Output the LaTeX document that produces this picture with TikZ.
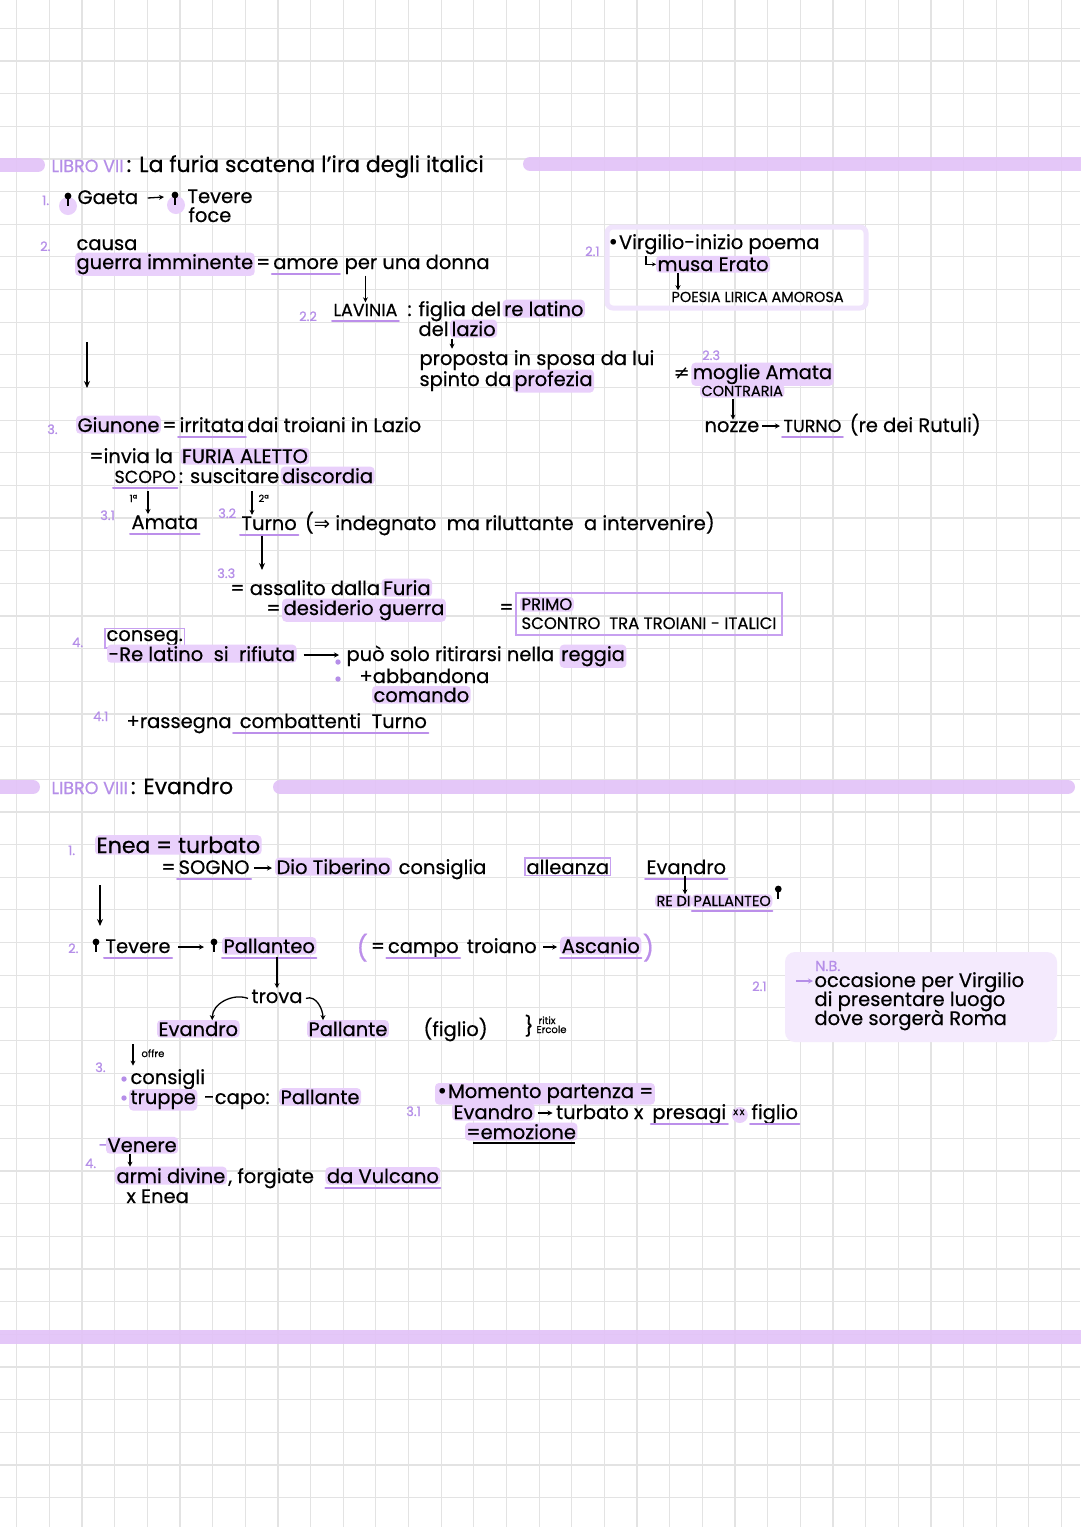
\documentclass[tikz,border=0pt]{standalone}
\usepackage{fontspec}
\setmainfont{Poppins}[FakeBold=0.5]
\newfontfamily\symf{DejaVu Sans}
\usetikzlibrary{arrows.meta,fit,calc}
\definecolor{hlc}{HTML}{E9D0FB}
\definecolor{ulc}{HTML}{BC8FEA}
\definecolor{bandc}{HTML}{E2C2F8}
\definecolor{numc}{HTML}{B58EE8}
\definecolor{gridc}{HTML}{E3E3E3}
\definecolor{boxc}{HTML}{C7A0F0}
\definecolor{nbc}{HTML}{F4EAFD}
\definecolor{framec}{HTML}{F0E4FC}
\newcommand\myTx{\fontsize{19.5}{22}\selectfont}
\newcommand\myHd{\fontsize{22}{24}\selectfont}
\newcommand\myHdP{\fontsize{17.5}{20}\selectfont}
\newcommand\myNum{\fontsize{13}{15}\selectfont}
\newcommand\myCap{\fontsize{17.5}{20}\selectfont}
\newcommand\myCapS{\fontsize{14.5}{16}\selectfont}
\newcommand\myCapM{\fontsize{16.5}{18}\selectfont}
\newcommand\myCapL{\fontsize{19.5}{22}\selectfont}
\newcommand\mySm{\fontsize{14.5}{16}\selectfont}
\newcommand\myTiny{\fontsize{10}{11}\selectfont}
\newcommand\myBig{\fontsize{25}{27}\selectfont}
\newcommand\ulu[1]{\draw[ul] ([yshift=-5pt]#1.base west) -- ([yshift=-5pt]#1.base east);}
\newcommand\pinAt[1]{\fill #1 circle (3.4pt); \draw[line width=1.6pt] #1 -- ++(0,10);}
\begin{document}
\begin{tikzpicture}[x=1pt,y=-1pt,
  tx/.style={font=\myTx, anchor=base west, inner sep=1.5pt, outer sep=0pt},
  hl/.style={tx, fill=hlc, rounded corners=4pt},
  num/.style={font=\myNum, text=numc, anchor=base west, inner sep=0pt},
  ar/.style={-{Stealth[length=7pt,width=6pt]}, line width=1.5pt},
  ars/.style={-{Stealth[length=5pt,width=5pt]}, line width=1.3pt},
  ul/.style={draw=ulc, line width=2pt, line cap=round},
  band/.style={line width=14pt, draw=bandc, line cap=round, opacity=0.9},
  gridl/.style={draw=gridc, line width=1.2pt}]
\useasboundingbox (0,0) rectangle (1080,1527);
\fill[white] (0,0) rectangle (1080,1527);
\foreach \k in {0,...,32} \draw[gridl] ({16.7+32.65*\k},0) -- ({16.7+32.65*\k},1527);
\foreach \k in {0,...,45} \draw[gridl] (0,{28.3+32.65*\k}) -- (1080,{28.3+32.65*\k});
% bands
\draw[band] (-20,165) -- (38,165);
\draw[band] (530,164) -- (1100,164);
\draw[band] (-20,787) -- (33,787);
\draw[band] (280,787) -- (1068,787);
\draw[band] (-20,1337) -- (1100,1337);
% header 1
\node[tx, text=numc, font=\myHdP] (h1) at (50,172) {LIBRO VII};
\node[tx, font=\myHd] (h1t) at (h1.base east) {: La furia scatena l'ira degli italici};
% 1
\node[num] (n1) at (42,205) {1.};
\fill[hlc] (68,206) circle (9pt);
\pinAt{(68,196)}
\node[tx] (gaeta) at (76,204) {Gaeta};
\fill[hlc] (176,205) circle (9pt);
\pinAt{(175,195)}
\node[tx] (tevere) at (186,203) {Tevere};
\node[tx] (foce) at (187,222) {foce};
\draw[ars] ($(gaeta.base east)+(8,-6)$) -- ($(tevere.base west)+(-22,-6)$);
% 2
\node[num] (n2) at (40,251) {2.};
\node[tx] (causa) at (75,250) {causa};
\node[hl] (guerra) at (75,269) {guerra imminente};
\node[tx] (eq2) at (guerra.base east) {= };
\node[tx] (amore) at (eq2.base east) {amore};
\ulu{amore}
\node[tx] (donna) at (amore.base east) {\,per una donna};
\node[num] (n22) at (299,321) {2.2};
\node[tx, font=\myCap] (lavinia) at (332,316) {LAVINIA};
\ulu{lavinia}
\draw[ars] (lavinia.north |- donna.south) -- (lavinia.north);
\node[tx] (figlia) at (406,316) {: figlia del};
\node[hl] (relatino) at (figlia.base east) {re latino};
\node[tx] (del) at (417,336) {del};
\node[hl] (lazio) at (del.base east) {lazio};
\node[tx] (proposta) at (418,365) {proposta in sposa da lui};
\node[tx] (spinto) at (418,386) {spinto da};
\node[hl] (profezia) at (spinto.base east) {profezia};
\draw[ars] ($(lazio.south west)+(2,1)$) -- ($(lazio.south west |- proposta.north)+(2,0)$);
% box 2.1
\draw[framec, line width=5pt, rounded corners=6pt] (607,227) rectangle (866,308);
\node[num] (n21) at (585,256) {2.1};
\node[tx] (virg) at (606,249) {{\symf •}Virgilio-inizio\ poema};
\node[hl] (musa) at (656,271) {musa Erato};
\draw[-{Stealth[length=4pt,width=4pt]}, line width=1.2pt] ($(musa.west)+(-10,-8)$) |- (musa.west);
\node[tx, font=\mySm] (poesia) at (670,302) {POESIA LIRICA AMOROSA};
\draw[ars] ($(musa.south west)+(22,0)$) -- ($(musa.south west |- poesia.north)+(22,0)$);
% big arrow 1
\coordinate (b1s) at (87,342);
\coordinate (b1e) at (87,388);
\draw[ar, line width=2pt] (b1s) -- (b1e);
% 2.3
\node[num] (n23) at (702,360) {2.3};
\node[tx, font=\symf\myTx] (neq) at (672,379) {≠};
\node[hl] (moglie) at (neq.base east) {moglie Amata};
\node[hl, font=\myCapS] (contraria) at (700,396) {CONTRARIA};
\node[tx] (nozze) at (703,432) {nozze};
\node[tx, font=\myCap] (turnoR) at (782,432) {TURNO};
\ulu{turnoR}
\node[tx] (rutuli) at (turnoR.base east) {\ (re dei Rutuli)};
\draw[ars] ($(contraria.south west)+(33,1)$) -- ($(contraria.south west |- nozze.north)+(33,0)$);
\draw[ars] ($(nozze.base east)+(1,-6)$) -- ($(turnoR.base west)+(-2,-6)$);
% 3
\node[num] (n3) at (47,434) {3.};
\node[hl] (giunone) at (76,432) {Giunone};
\node[tx] (g2) at (giunone.base east) {= };
\node[tx] (irritata) at (g2.base east) {irritata};
\ulu{irritata}
\node[tx] (g3) at (irritata.base east) {dai\ troiani\ in\ Lazio};
\node[tx] (invia) at (88,463) {=invia la};
\node[hl, font=\myCapL] (furia) at ($(invia.base east)+(6,0)$) {FURIA ALETTO};
\node[tx, font=\myCap] (scopo) at (113,483) {SCOPO};
\ulu{scopo}
\node[tx] (susc) at (scopo.base east) {: suscitare};
\node[hl] (discordia) at (susc.base east) {discordia};
\node[tx, font=\myTiny] (p1a) at (128,502) {1ª};
\node[tx, font=\myTiny] (p2a) at (257,502) {2ª};
\node[num] (n31) at (100,520) {3.1};
\node[tx] (amata) at (130,529) {Amata};
\ulu{amata}
\node[num] (n32) at (218,518) {3.2};
\node[tx] (turno) at (240,530) {Turno};
\ulu{turno}
\node[tx] (ind) at (turno.base east) {\ ({\symf ⇒} indegnato\ \ ma riluttante\ \ a intervenire)};
\coordinate (c1a) at (148,491);
\draw[ars] (c1a) -- (amata.north -| c1a);
\coordinate (c2a) at (252,491);
\draw[ars] (c2a) -- (turno.north -| c2a);
\coordinate (c33) at (262,570);
\draw[ar] ($(c33 |- turno.south)+(0,4)$) -- (c33);
\node[num] (n33) at (217,578) {3.3};
\node[tx] (ass) at (229,595) {= assalito dalla};
\node[hl] (furia2) at (ass.base east) {Furia};
\node[tx] (eqd) at (265,615) {= };
\node[hl] (desid) at (eqd.base east) {desiderio\ guerra};
\node[tx] (eqp) at (498,614) {=};
\node[hl, font=\myCapM] (primo) at (520,610) {PRIMO};
\node[tx, font=\myCapM] (scontro) at (520,629) {SCONTRO\ \ TRA TROIANI - ITALICI};
\node[draw=boxc, line width=2pt, fit=(primo)(scontro), inner sep=4pt] (box) {};
% 4
\node[num] (n4) at (72,647) {4.};
\node[tx, draw=boxc, line width=1.6pt] (conseg) at (105,641) {conseg.};
\node[hl] (rifiuta) at (107,661) {-Re latino \ si \ rifiuta\hspace{10pt}};
\node[tx] (puo) at (345,661) {può solo ritirarsi nella};
\node[hl] (reggia) at ($(puo.base east)+(4,0)$) {reggia};
\draw[ars] ($(rifiuta.base east)+(7,-6)$) -- ($(puo.base west)+(-6,-6)$);
\fill[numc] (338,662) circle (2.7pt);
\fill[numc] (338,679) circle (2.7pt);
\node[tx] (abb) at (358,683) {+abbandona};
\node[hl] (comando) at (372,702) {comando};
\node[num] (n41) at (93,721) {4.1};
\node[tx] (rass) at (125,728) {+rassegna};
\node[tx] (comb) at (rass.base east) {\ combattenti\ \ Turno};
\ulu{comb}
% header 2
\node[tx, text=numc, font=\myHdP] (h2) at (50,794) {LIBRO VIII};
\node[tx, font=\myHd] (h2t) at (h2.base east) {: Evandro};
% VIII 1
\node[num] (m1) at (68,855) {1.};
\node[hl, font=\myHd] (enea) at (95,853) {Enea = turbato};
\node[tx] (eqs) at (160,874) {= };
\node[tx] (sogno) at (eqs.base east) {SOGNO};
\ulu{sogno}
\node[hl] (tiber) at (275,874) {Dio Tiberino};
\draw[ars] ($(sogno.base east)+(3,-6)$) -- ($(tiber.base west)+(-3,-6)$);
\node[tx] (consiglia) at (tiber.base east) {\ consiglia};
\node[tx, draw=boxc, line width=1.6pt] (alleanza) at (525,874) {alleanza};
\node[tx] (evandroA) at (645,874) {Evandro};
\ulu{evandroA}
\node[hl, font=\myCapS] (redi) at (655,906) {RE DI};
\node[hl, font=\myCapS] (pallanteoA) at (redi.base east) {PALLANTEO};
\ulu{pallanteoA}
\pinAt{($(pallanteoA.base east)+(6,-17)$)}
\draw[ars] ($(evandroA.south west)+(40,0)$) -- ($(evandroA.south west |- redi.north)+(40,0)$);
\coordinate (b2s) at (100,885);
\coordinate (b2e) at (100,926);
\draw[ar, line width=2pt] (b2s) -- (b2e);
% VIII 2
\node[num] (m2) at (68,953) {2.};
\pinAt{(96,942)}
\node[tx] (tevere2) at (104,953) {Tevere};
\ulu{tevere2}
\pinAt{(214,942)}
\node[hl] (pall) at (222,953) {Pallanteo};
\ulu{pall}
\draw[ars] ($(tevere2.base east)+(6,-6)$) -- ($(pall.base west)+(-18,-6)$);
\node[tx, text=ulc, font=\myBig] (lp) at (355,957) {(};
\node[tx] (campo0) at ($(lp.base east)+(0,-4)$) {= };
\node[tx] (campo) at (campo0.base east) {campo};
\ulu{campo}
\node[tx] (troiano) at (campo.base east) {\ troiano};
\node[hl] (ascanio) at ($(troiano.base east)+(22,0)$) {Ascanio};
\ulu{ascanio}
\node[tx, text=ulc, font=\myBig] (rp) at ($(ascanio.base east)+(0,4)$) {)};
\draw[ars] ($(troiano.base east)+(5,-6)$) -- ($(ascanio.base west)+(-3,-6)$);
\node[tx] (trova) at (250,1003) {trova};
\draw[ars] ($(trova.north |- pall.south)+(0,2)$) -- (trova.north);
\node[hl] (evB) at (157,1036) {Evandro};
\node[hl] (pallante) at (307,1036) {Pallante};
\node[tx] (figlio) at (422,1036) {(figlio)};
\node[tx, font=\myTx] (br) at (523,1033) {\}};
\node[tx, font=\myTiny] (ritix) at (537,1024) {ritix};
\node[tx, font=\myTiny] (ercole) at (535,1033) {Ercole};
\draw[ars] ($(trova.west)+(-2,2)$) to[out=160,in=90] ($(evB.north)+(14,0)$);
\draw[ars] ($(trova.east)+(2,2)$) to[out=20,in=90] ($(pallante.north)+(-25,0)$);
% N.B.
\fill[nbc, rounded corners=10pt] (785,952) rectangle (1057,1042);
\node[num, font=\myCapS] (nb) at (815,971) {N.B.};
\node[num] (m21) at (752,991) {2.1};
\node[tx] (occ) at (813,987) {occasione per Virgilio};
\node[tx] (pres) at (813,1006) {di presentare luogo};
\node[tx] (dove) at (813,1025) {dove sorgerà Roma};
\coordinate (nbA) at (796,981);
\draw[ars, draw=numc] (nbA) -- (occ.west |- nbA);
% VIII 3
\node[num] (m3) at (95,1072) {3.};
\node[tx, font=\myTiny] (offre) at (140,1057) {offre};
\fill[numc] (124,1079) circle (2.7pt);
\node[tx] (consigli) at (129,1084) {consigli};
\coordinate (offA) at (133,1044);
\draw[ars] (offA) -- ($(offA |- consigli.north)+(0,-2)$);
\fill[numc] (124,1098) circle (2.7pt);
\node[hl] (truppe) at (129,1104) {truppe};
\node[tx] (capo) at (truppe.base east) {\ -capo:};
\node[hl] (pallante2) at ($(capo.base east)+(8,0)$) {Pallante};
\node[num] (m31) at (406,1116) {3.1};
\node[hl] (momento) at (435,1098) {{\symf •}Momento partenza =};
\node[hl] (evC) at (452,1119) {Evandro};
\node[tx] (turbato) at ($(evC.base east)+(20,0)$) {turbato x};
\draw[ars] ($(evC.base east)+(3,-6)$) -- ($(turbato.base west)+(-2,-6)$);
\node[tx] (presagi) at ($(turbato.base east)+(6,0)$) {presagi};
\ulu{presagi}
\fill[hlc] ($(presagi.base east)+(12,-4)$) circle (8pt);
\node[tx, font=\myTiny] (xx) at ($(presagi.base east)+(4,-4)$) {x\,x};
\node[tx] (figlio2) at ($(xx.base east)+(4,4)$) {figlio};
\ulu{figlio2}
\node[hl] (emozione) at (465,1139) {=emozione};
\draw[line width=1.6pt] ($(emozione.base west)+(8,4)$) -- ($(emozione.base east)+(-2,4)$);
% VIII 4
\node[num] (m4) at (85,1168) {4.};
\node[tx, text=numc] (dash) at (97,1152) {-};
\node[hl] (venere) at (106,1152) {Venere};
\node[hl] (armi) at (115,1183) {armi divine};
\node[tx] (forg) at (armi.base east) {, forgiate};
\node[hl] (vulcano) at ($(forg.base east)+(10,0)$) {da Vulcano};
\ulu{vulcano}
\node[tx] (xenea) at (125,1203) {x Enea};
\draw[ars] ($(venere.south west)+(24,0)$) -- ($(venere.south west |- armi.north)+(24,0)$);
\end{tikzpicture}
\end{document}
